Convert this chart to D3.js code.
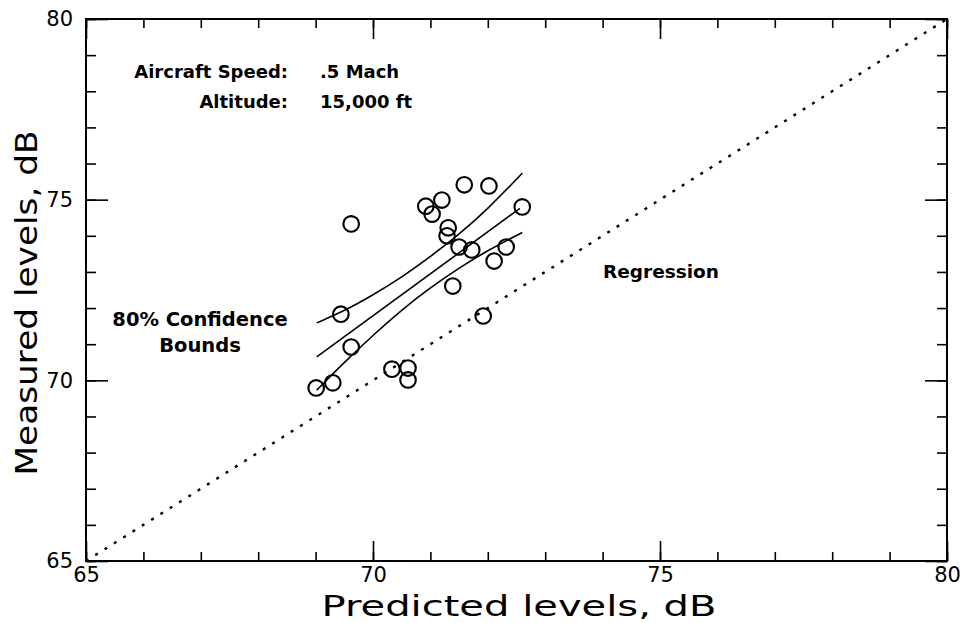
<!DOCTYPE html>
<html>
<head>
<meta charset="utf-8">
<script src="https://cdn.jsdelivr.net/npm/d3@7/dist/d3.min.js"></script>
<style>
  html, body { margin: 0; padding: 0; background: #fff; }
  svg { display: block; }
  text { font-family: "DejaVu Sans", sans-serif; fill: #000; }
</style>
</head>
<body>
<svg id="chart" width="963" height="623"></svg>
<script>
// ---- data ----
const predicted = [71.59, 72.02, 71.20, 70.92, 71.03, 69.62, 72.60, 71.31, 71.29, 71.50, 71.72,
                   72.32, 72.11, 71.39, 69.44, 71.92, 69.62, 70.33, 70.61, 70.61, 69.01, 69.30];
const measured  = [75.41, 75.38, 74.99, 74.82, 74.60, 74.33, 74.80, 74.22, 74.00, 73.69, 73.61,
                   73.69, 73.30, 72.61, 71.83, 71.78, 70.92, 70.31, 70.34, 70.01, 69.79, 69.93];

const regressionX = [69.02, 72.56];
const regressionY = [70.65, 74.76];

const upperX = [69.02, 69.50, 70.00, 70.50, 71.00, 71.50, 72.00, 72.60];
const upperY = [71.59, 71.92, 72.36, 72.85, 73.42, 74.04, 74.74, 75.73];

const lowerX = [69.02, 69.50, 70.00, 70.50, 70.94, 71.50, 72.00, 72.60];
const lowerY = [69.73, 70.50, 71.25, 71.95, 72.50, 73.11, 73.60, 74.09];

const identityX = [65, 80];
const identityY = [65, 80];

const majorTicks = [65, 70, 75, 80];
const minorTicks = d3.range(65, 81, 1);

const xTitle = "Predicted levels, dB";
const yTitle = "Measured levels, dB";

// ---- layout ----
const svg = d3.select("#chart");
const L = 86, R = 947, T = 19, B = 561;

const x = d3.scaleLinear().domain([65, 80]).range([L, R]);
const y = d3.scaleLinear().domain([65, 80]).range([B, T]);

const zip = (a, b) => a.map((v, i) => [v, b[i]]);
const line = d3.line().x(d => x(d[0])).y(d => y(d[1]));
const smooth = d3.line().x(d => x(d[0])).y(d => y(d[1])).curve(d3.curveBasis);

// ---- axes (ticks pointing inward on all four sides) ----
function styleAxis(g) {
  g.select(".domain").remove();
  g.selectAll(".tick line").attr("stroke", "#000").attr("stroke-width", 1.6);
  g.selectAll("text").style("font-family", "DejaVu Sans, sans-serif").attr("fill", "#000");
}

// minor ticks
svg.append("g").attr("transform", `translate(0,${B})`)
  .call(d3.axisBottom(x).tickValues(minorTicks).tickSizeInner(-9).tickSizeOuter(0).tickFormat(""))
  .call(styleAxis);
svg.append("g").attr("transform", `translate(0,${T})`)
  .call(d3.axisTop(x).tickValues(minorTicks).tickSizeInner(-9).tickSizeOuter(0).tickFormat(""))
  .call(styleAxis);
svg.append("g").attr("transform", `translate(${L},0)`)
  .call(d3.axisLeft(y).tickValues(minorTicks).tickSizeInner(-10).tickSizeOuter(0).tickFormat(""))
  .call(styleAxis);
svg.append("g").attr("transform", `translate(${R},0)`)
  .call(d3.axisRight(y).tickValues(minorTicks).tickSizeInner(-10).tickSizeOuter(0).tickFormat(""))
  .call(styleAxis);

// major ticks with labels
svg.append("g").attr("transform", `translate(0,${B})`)
  .call(d3.axisBottom(x).tickValues(majorTicks).tickSizeInner(-20).tickSizeOuter(0).tickPadding(6).tickFormat(d3.format("d")))
  .call(styleAxis)
  .call(g => g.selectAll("text").attr("font-size", 21));
svg.append("g").attr("transform", `translate(0,${T})`)
  .call(d3.axisTop(x).tickValues(majorTicks).tickSizeInner(-20).tickSizeOuter(0).tickFormat(""))
  .call(styleAxis);
svg.append("g").attr("transform", `translate(${L},0)`)
  .call(d3.axisLeft(y).tickValues(majorTicks).tickSizeInner(-22).tickSizeOuter(0).tickPadding(13).tickFormat(d3.format("d")))
  .call(styleAxis)
  .call(g => g.selectAll("text").attr("font-size", 21));
svg.append("g").attr("transform", `translate(${R},0)`)
  .call(d3.axisRight(y).tickValues(majorTicks).tickSizeInner(-22).tickSizeOuter(0).tickFormat(""))
  .call(styleAxis);

// frame
svg.append("rect")
  .attr("x", L).attr("y", T).attr("width", R - L).attr("height", B - T)
  .attr("fill", "none").attr("stroke", "#000").attr("stroke-width", 2);

// identity (dotted) line
svg.append("path")
  .datum(zip(identityX, identityY))
  .attr("d", line)
  .attr("fill", "none").attr("stroke", "#000")
  .attr("stroke-width", 2.4).attr("stroke-dasharray", "3,8");

// regression and bounds
svg.append("path").datum(zip(regressionX, regressionY)).attr("d", line)
  .attr("fill", "none").attr("stroke", "#000").attr("stroke-width", 1.6);
svg.append("path").datum(zip(upperX, upperY)).attr("d", smooth)
  .attr("fill", "none").attr("stroke", "#000").attr("stroke-width", 1.6);
svg.append("path").datum(zip(lowerX, lowerY)).attr("d", smooth)
  .attr("fill", "none").attr("stroke", "#000").attr("stroke-width", 1.6);

// points
svg.append("g").selectAll("circle")
  .data(zip(predicted, measured))
  .join("circle")
  .attr("cx", d => x(d[0])).attr("cy", d => y(d[1]))
  .attr("r", 7.8)
  .attr("fill", "none").attr("stroke", "#000").attr("stroke-width", 2.1);

// annotations
const ann = svg.append("g").attr("font-weight", "bold");
ann.append("text").attr("x", 288).attr("y", 78).attr("font-size", 18).attr("text-anchor", "end").text("Aircraft Speed:");
ann.append("text").attr("x", 320).attr("y", 78).attr("font-size", 18).text(".5 Mach");
ann.append("text").attr("x", 288).attr("y", 108).attr("font-size", 18).attr("text-anchor", "end").text("Altitude:");
ann.append("text").attr("x", 320).attr("y", 108).attr("font-size", 18).text("15,000 ft");
ann.append("text").attr("x", 200).attr("y", 326).attr("font-size", 19.5).attr("text-anchor", "middle").text("80% Confidence");
ann.append("text").attr("x", 200).attr("y", 352).attr("font-size", 19.5).attr("text-anchor", "middle").text("Bounds");
ann.append("text").attr("x", 603).attr("y", 278).attr("font-size", 18.5).text("Regression");

// axis titles
svg.append("text")
  .attr("x", 519).attr("y", 616).attr("text-anchor", "middle")
  .attr("font-size", 29).attr("textLength", 395).attr("lengthAdjust", "spacingAndGlyphs")
  .text(xTitle);
svg.append("text")
  .attr("transform", "translate(37,303) rotate(-90)")
  .attr("text-anchor", "middle")
  .attr("font-size", 31).attr("textLength", 345).attr("lengthAdjust", "spacingAndGlyphs")
  .text(yTitle);
</script>
</body>
</html>
